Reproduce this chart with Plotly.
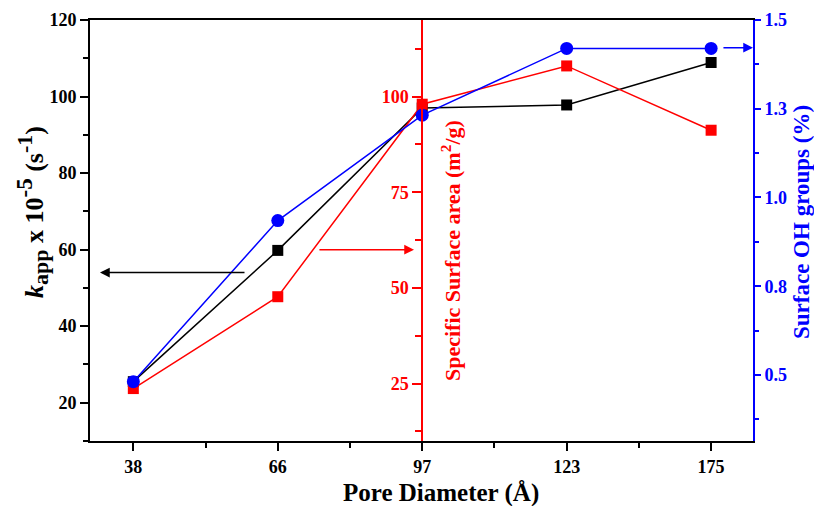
import plotly.graph_objects as go

pore_labels = ["38", "66", "97", "123", "175"]
k_app = [25.5, 59.8, 97.0, 97.8, 108.9]
surface_area = [23.7, 47.7, 98.0, 108.0, 91.2]
oh_groups = [0.481, 0.935, 1.232, 1.42, 1.42]

blue_ticks = [0.5, 0.75, 1.0, 1.25, 1.5]
blue_ticktext = ["0.5", "0.8", "1.0", "1.3", "1.5"]
red_ticks = [25, 50, 75, 100]

xi = list(range(len(pore_labels)))
FONT = "Liberation Serif, Times New Roman, serif"
RED = "#ff0000"
BLUE = "#0000ff"
TICKSIZE = 18

fig = go.Figure()
fig.add_trace(go.Scatter(x=xi, y=k_app, mode="lines+markers", yaxis="y",
                         line=dict(color="black", width=1.5),
                         marker=dict(symbol="square", size=11, color="black")))
fig.add_trace(go.Scatter(x=xi, y=surface_area, mode="lines+markers", yaxis="y2",
                         line=dict(color=RED, width=1.5),
                         marker=dict(symbol="square", size=11, color=RED)))
fig.add_trace(go.Scatter(x=xi, y=oh_groups, mode="lines+markers", yaxis="y4",
                         line=dict(color=BLUE, width=1.5),
                         marker=dict(symbol="circle", size=13, color=BLUE)))

L, R, T, B = 90, 753, 20, 441
W = R - L
H = B - T
xr = [-0.3, 4.29]
red_pos = (2 - xr[0]) / (xr[1] - xr[0])


def px_x(p):
    return (p - L) / W


def px_y(p):
    return (B - p) / H


fig.update_layout(
    width=814, height=506,
    margin=dict(l=L, r=814 - R, t=T, b=506 - B),
    paper_bgcolor="white", plot_bgcolor="white",
    showlegend=False,
    font=dict(family=FONT, size=TICKSIZE, color="black"),
    xaxis=dict(
        range=xr, tickmode="array", tickvals=xi, ticktext=pore_labels, automargin=False,
        showgrid=False, zeroline=False, showline=True, linecolor="black", linewidth=2,
        mirror=True, ticks="outside", ticklen=8, tickwidth=2, tickcolor="black",
        minor=dict(tickmode="linear", tick0=0.5, dtick=1, ticks="outside", ticklen=5, tickwidth=2, tickcolor="black"),
        tickfont=dict(family=FONT, size=TICKSIZE, color="black", weight="bold"),
    ),
    yaxis=dict(
        range=[10, 120], tick0=0, dtick=20, automargin=False,
        showgrid=False, zeroline=False, showline=True, linecolor="black", linewidth=2,
        ticks="outside", ticklen=8, tickwidth=2, tickcolor="black",
        minor=dict(tick0=0, dtick=10, ticks="outside", ticklen=5, tickwidth=2, tickcolor="black"),
        tickfont=dict(family=FONT, size=TICKSIZE, color="black", weight="bold"),
    ),
    yaxis2=dict(
        range=[10, 120], overlaying="y", anchor="free", position=red_pos, side="left",
        tickmode="array", tickvals=red_ticks, automargin=False,
        showgrid=False, zeroline=False, showline=True, linecolor=RED, linewidth=1.5,
        ticks="outside", ticklen=9, tickwidth=1.5, tickcolor=RED,
        minor=dict(tick0=0, dtick=12.5, ticks="outside", ticklen=6, tickwidth=1.5, tickcolor=RED),
        tickfont=dict(family=FONT, size=TICKSIZE, color=RED, weight="bold"),
    ),
    yaxis3=dict(
        range=[10, 120], overlaying="y", anchor="free", position=red_pos, side="right",
        tickmode="array", tickvals=red_ticks, showticklabels=False, automargin=False,
        showgrid=False, zeroline=False, showline=False,
        ticks="outside", ticklen=9, tickwidth=1.5, tickcolor=RED,
        minor=dict(tick0=0, dtick=12.5, ticks="outside", ticklen=6, tickwidth=1.5, tickcolor=RED),
    ),
    yaxis4=dict(
        range=[0.314, 1.5], overlaying="y", anchor="x", side="right", automargin=False,
        tickmode="array", tickvals=blue_ticks, ticktext=blue_ticktext,
        showgrid=False, zeroline=False, showline=True, linecolor=BLUE, linewidth=2,
        ticks="outside", ticklen=6, tickwidth=1.5, tickcolor=BLUE,
        minor=dict(tick0=0, dtick=0.125, ticks="outside", ticklen=4, tickwidth=1.5, tickcolor=BLUE),
        tickfont=dict(family=FONT, size=TICKSIZE, color=BLUE, weight="bold"),
    ),
    annotations=[
        dict(xref="paper", yref="paper", x=px_x(33), y=px_y(212),
             text=("<b><i>k</i><sub><span style='font-size:22px'>app</span></sub> x 10"
                   "<sup><span style='font-size:23px'>-5</span></sup> (s"
                   "<sup><span style='font-size:22px'>-1</span></sup>)</b>"),
             textangle=-90, showarrow=False, font=dict(family=FONT, size=26, color="black"),
             xanchor="center", yanchor="middle"),
        dict(xref="paper", yref="paper", x=px_x(441), y=px_y(493),
             text="<b>Pore Diameter (Å)</b>", showarrow=False,
             font=dict(family=FONT, size=25, color="black"),
             xanchor="center", yanchor="middle"),
        dict(xref="paper", yref="paper", x=px_x(801), y=px_y(222),
             text="<b>Surface OH groups (%)</b>", textangle=-90, showarrow=False,
             font=dict(family=FONT, size=23, color=BLUE),
             xanchor="center", yanchor="middle"),
        dict(xref="paper", yref="paper", x=px_x(451), y=px_y(250),
             text="<b>Specific Surface area (m<sup>2</sup>/g)</b>", textangle=-90,
             showarrow=False, font=dict(family=FONT, size=22, color=RED),
             xanchor="center", yanchor="middle"),
        dict(x=-0.231, y=54, xref="x", yref="y", ax=0.78, ay=54, axref="x", ayref="y",
             text="", showarrow=True, arrowhead=2, arrowsize=1.3, arrowwidth=1.5, arrowcolor="black"),
        dict(x=1.943, y=60, xref="x", yref="y2", ax=1.278, ay=60, axref="x", ayref="y2",
             text="", showarrow=True, arrowhead=2, arrowsize=1.3, arrowwidth=1.5, arrowcolor=RED),
        dict(x=4.29, y=1.422, xref="x", yref="y4", ax=4.075, ay=1.422, axref="x", ayref="y4",
             text="", showarrow=True, arrowhead=2, arrowsize=1.3, arrowwidth=1.5, arrowcolor=BLUE),
    ],
)

fig.write_html("out.html", config={"displayModeBar": False},
               post_script="document.body.style.margin='0';document.body.style.overflow='hidden';")
